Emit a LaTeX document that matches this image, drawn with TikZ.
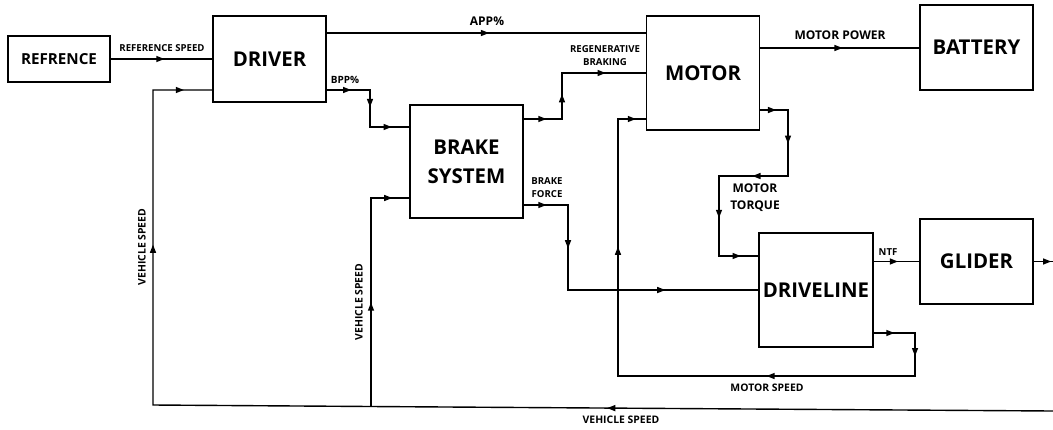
\documentclass[tikz,border=0pt]{standalone}
\usepackage{fontspec}
\setmainfont{Open Sans}
\usetikzlibrary{shapes.geometric}
\begin{document}
\begin{tikzpicture}[x=0.5pt, y=-0.5pt, line width=0.7pt,
    blk/.style={draw, line width=0.6pt, minimum width=56.5pt, inner sep=0pt, align=center,
        font=\fontsize{10.2}{14.5}\selectfont\bfseries},
    lbl/.style={inner sep=0pt, align=center, font=\fontsize{4.8}{6.5}\selectfont\bfseries},
    lblb/.style={lbl, font=\fontsize{6}{8.5}\selectfont\bfseries},
    lblm/.style={lbl, font=\fontsize{5.2}{7}\selectfont\bfseries},
    tip/.style={isosceles triangle, isosceles triangle stretches, fill, draw=none, inner sep=0pt,
        minimum width=3.2pt, minimum height=4pt, sloped, allow upside down, anchor=center}]
    \useasboundingbox (0,0) rectangle (1053,429);

    % blocks
    \node[blk, minimum width=51pt, minimum height=23pt, font=\fontsize{7.6}{11}\selectfont\bfseries] (ref) at (59,59) {REFRENCE};
    \node[blk, minimum height=43pt] (drv) at (269.5,59) {DRIVER};
    \node[blk, minimum height=56.5pt] (brk) at (466.5,161.5) {BRAKE\\SYSTEM};
    \node[blk, minimum height=57pt] (mot) at (703,73) {MOTOR};
    \node[blk, minimum height=42.5pt] (bat) at (976.5,47.5) {BATTERY};
    \node[blk, minimum width=57pt, minimum height=57pt] (dl) at (816,290) {DRIVELINE};
    \node[blk, minimum height=42.5pt] (gld) at (976.5,261.5) {GLIDER};

    % bend points
    \coordinate (app) at (0,33);
    \coordinate (bpp1) at (370,90);
    \coordinate (bpp2) at (370,127);
    \coordinate (rg1) at (562,119);
    \coordinate (rg2) at (562,73);
    \coordinate (mp) at (0,48);
    \coordinate (mt1) at (788,110);
    \coordinate (mt2) at (788,176);
    \coordinate (mt3) at (719,176);
    \coordinate (mt4) at (719,256);
    \coordinate (bf1) at (568,205);
    \coordinate (bf2) at (568,290);
    \coordinate (gout) at (1053,261.5);
    \coordinate (ms1) at (915,333);
    \coordinate (ms2) at (915,376);
    \coordinate (ms3) at (618,376);
    \coordinate (ms4) at (618,119);
    \coordinate (vs0) at (1053,411);
    \coordinate (vs1) at (371,406.5);
    \coordinate (vs2) at (153,405);
    \coordinate (vs3) at (153,90);
    \coordinate (vs4) at (371,198);

    % signals
    \draw (ref) -- node[tip, pos=.47]{} (drv);
    \draw (drv.east |- app) -- node[tip, pos=.49]{} (mot.west |- app);
    \draw (drv.east |- bpp1) -- node[tip, pos=.43]{} (bpp1) -- node[tip, pos=.3]{} (bpp2)
        -- node[tip, pos=.4]{} (brk.west |- bpp2);
    \draw (brk.east |- rg1) -- node[tip, pos=.44]{} (rg1) -- node[tip, pos=.41]{} (rg2)
        -- node[tip, pos=.45]{} (mot.west |- rg2);
    \draw (mot.east |- mp) -- node[tip, pos=.48]{} (bat.west |- mp);
    \draw (mot.east |- mt1) -- node[tip, pos=.36]{} (mt1) -- node[tip, pos=.42]{} (mt2)
        -- node[tip, pos=.43]{} (mt3) -- node[tip, pos=.45]{} (mt4) -- node[tip, pos=.4]{} (dl.west |- mt4);
    \draw (brk.east |- bf1) -- node[tip, pos=.38]{} (bf1) -- node[tip, pos=.44]{} (bf2)
        -- node[tip, pos=.48]{} (dl.west |- bf2);
    \draw (dl.east |- gld) -- node[tip, pos=.4]{} (gld);
    \draw (gld) -- node[tip, pos=.6]{} (gout);
    \draw (dl.east |- ms1) -- node[tip, pos=.36]{} (ms1) -- node[tip, pos=.4]{} (ms2)
        -- node[tip, pos=.48]{} (ms3) -- node[tip, pos=.48]{} (ms4) -- node[tip, pos=.43]{} (mot.west |- ms4);
    \draw (vs0) -- node[tip, pos=.645]{} (vs1) -- (vs2) -- node[tip, pos=.49]{} (vs3)
        -- node[tip, pos=.42]{} (drv.west |- vs3);
    \draw (vs1) -- node[tip, pos=.47]{} (vs4) -- node[tip, pos=.4]{} (brk.west |- vs4);

    % labels
    \node[lbl] (lrs) at (162,48) {REFERENCE SPEED};
    \node[lblb] (lapp) at (487,21) {APP\%};
    \node[lbl, font=\fontsize{5}{7}\selectfont\bfseries] (lbpp) at (345,80) {BPP\%};
    \node[lbl] (lrb) at (605,55.5) {REGENERATIVE\\BRAKING};
    \node[lblb] (lmp) at (840,35) {MOTOR POWER};
    \node[lblb] (lmt) at (755,197.5) {MOTOR\\TORQUE};
    \node[lbl] (lbf) at (547,187.5) {BRAKE\\FORCE};
    \node[lbl] (lntf) at (888,252) {NTF};
    \node[lblm] (lms) at (767,388) {MOTOR SPEED};
    \node[lblm] (lvs) at (621,420) {VEHICLE SPEED};
    \node[lblm, rotate=90] (lvsa) at (142,247) {VEHICLE SPEED};
    \node[lblm, rotate=90] (lvsb) at (359,302) {VEHICLE SPEED};
\end{tikzpicture}
\end{document}
